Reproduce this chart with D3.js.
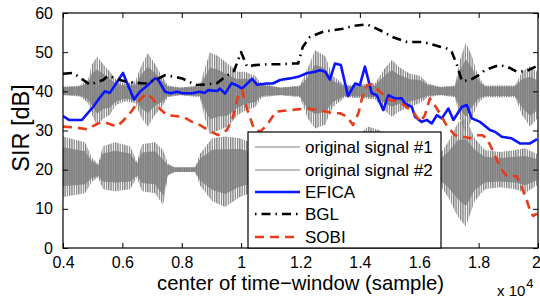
<!DOCTYPE html>
<html>
<head>
<meta charset="utf-8">
<script src="https://cdnjs.cloudflare.com/ajax/libs/d3/7.8.5/d3.min.js"></script>
<style>
body { margin: 0; background: #fff; }
text { font-family: "Liberation Sans", Arial, sans-serif; fill: #000; }
</style>
</head>
<body>
<svg id="chart"></svg>
<script>
var WIDTH = 540, HEIGHT = 298;
var MARGIN = {left: 63, right: 2, top: 13, bottom: 50};
var PLOT_W = WIDTH - MARGIN.left - MARGIN.right;
var PLOT_H = HEIGHT - MARGIN.top - MARGIN.bottom;

var GRAY = "#7f7f7f", BLUE = "#0a14ff", RED = "#e63c1a";

//axis ticks
var X_TICKS = [4000, 6000, 8000, 10000, 12000, 14000, 16000, 18000, 20000];
var X_TICK_LABELS = ["0.4", "0.6", "0.8", "1", "1.2", "1.4", "1.6", "1.8", "2"];
var Y_TICKS = [0, 10, 20, 30, 40, 50, 60];

//legend names
var SERIES_NAMES = ["original signal #1", "original signal #2", "EFICA", "BGL", "SOBI"];

//center of time-window (sample) and SIR [dB]
var EFICA_X = [4000, 4200, 4640, 5010, 5250, 5410, 5580, 6020, 6390, 6590, 6860, 7100, 7200, 7440, 7640, 7840, 8040, 8350, 8610, 8780, 8880, 9190, 9290, 9460, 9680, 9860, 10030, 10370, 10530, 10870, 11070, 11310, 11640, 11920, 12210, 12490, 12660, 12830, 12990, 13160, 13360, 13600, 13840, 14000, 14170, 14400, 14570, 14790, 14960, 15180, 15410, 15520, 15750, 15860, 16080, 16250, 16420, 16590, 16760, 16980, 17150, 17430, 17600, 17770, 18050, 18380, 18550, 18780, 19110, 19390, 19730, 19970];
var EFICA_Y = [33.7, 32.7, 32.7, 36, 38.5, 40, 39.6, 44.7, 37.9, 39.9, 41.6, 43.3, 43, 39.9, 39.5, 39.9, 39.5, 39.5, 39.9, 39.6, 40.3, 40.1, 40.7, 39.4, 42.1, 41.5, 40.7, 43.2, 41.7, 42, 42, 42.9, 43.3, 43.7, 44.6, 45, 45.4, 45, 43, 47.1, 46.7, 38.8, 42, 41.6, 46.3, 39.5, 39, 35.2, 39, 38.2, 38.2, 36.9, 36, 33.5, 32.2, 32.7, 31.8, 33.9, 33.1, 35.6, 32.7, 36, 36.5, 33.1, 32.2, 30.1, 29.7, 28.4, 28, 26.7, 26.7, 27.8];

var BGL_X = [4000, 4340, 4910, 5350, 5520, 5750, 6150, 6760, 7100, 7440, 7770, 8010, 8480, 8850, 9190, 9390, 9760, 10000, 10200, 10470, 10870, 11310, 11750, 11920, 12080, 12320, 12760, 13430, 13770, 14240, 14680, 15120, 15590, 16130, 16700, 16940, 17100, 17270, 17440, 17710, 17980, 18210, 18690, 18960, 19290, 19630, 19970];
var BGL_Y = [44.5, 44.7, 41.7, 42.9, 44, 43.3, 42.4, 42, 42.9, 44.1, 43.7, 43.3, 41.6, 41.8, 42.1, 43.3, 45.2, 50, 46.3, 46.7, 46.9, 46.9, 47.1, 47.1, 51.4, 53.9, 55.2, 56, 56.7, 57.1, 55.6, 53.8, 52.6, 52.6, 51.4, 50.9, 50, 46.7, 42.6, 42.9, 44, 45.4, 46.7, 46.3, 45, 45.2, 46.5];

var SOBI_X = [4000, 4400, 4810, 5180, 5350, 5820, 6090, 6320, 6490, 6800, 7000, 7270, 7500, 8040, 8450, 8610, 8990, 9220, 9520, 9730, 9890, 10030, 10200, 10430, 10640, 10870, 11170, 11640, 12220, 12660, 13090, 13330, 13570, 13770, 13950, 14070, 14240, 14410, 14680, 15010, 15320, 15490, 15830, 16030, 16190, 16360, 16560, 16760, 16940, 17200, 17470, 17710, 17910, 18120, 18280, 18490, 18720, 18960, 19280, 19450, 19620, 19760, 19840, 19970];
var SOBI_Y = [31, 30.8, 30.3, 31.8, 32.2, 31, 33, 35, 37, 39.5, 38.3, 35.5, 33.9, 33.5, 31.8, 31.4, 29.7, 28.8, 30.1, 33.5, 38.6, 40.3, 35.5, 30.5, 29.7, 31.4, 34.8, 35.2, 35.6, 35.2, 34.4, 34.4, 33.5, 31.4, 34.4, 38.2, 41.6, 41.8, 39.9, 37.8, 37.3, 36.5, 34.4, 32.2, 33.9, 38.2, 36, 33.5, 31, 28.8, 28.4, 28, 28.8, 28.8, 28, 24.6, 20.7, 18.2, 18.4, 15.6, 12.2, 9, 8.2, 8.8];

//waveform envelopes of the original signals (as drawn on the SIR scale)
var SIG1_X = [4000, 4570, 4840, 4980, 5150, 5350, 5580, 5790, 6090, 6430, 6660, 6860, 7100, 7330, 7540, 7940, 8610, 8780, 8950, 9220, 9560, 9890, 10130, 10470, 10700, 11310, 11980, 12250, 12490, 12830, 13090, 13500, 14510, 14850, 15080, 15350, 15690, 16030, 16290, 16700, 17200, 17370, 17570, 17770, 17980, 18210, 19230, 19460, 19730, 19970];
var SIG1_HI = [41.2, 41.5, 43, 47, 48.8, 47, 45, 43, 42, 42.5, 47, 49.7, 47, 44, 41.5, 41, 41.5, 46, 50, 49, 47, 45, 45, 44, 42, 41, 41.5, 46, 50.5, 49, 44, 41.5, 42, 46, 48, 46, 44.5, 44, 42, 41.2, 41.5, 48, 52.5, 49, 44, 41.5, 41.5, 45, 46.5, 45];
var SIG1_LO = [39, 38.7, 37, 34, 31, 33, 34, 36.5, 37.5, 37, 33, 31, 34, 36, 38.5, 39, 38.5, 33, 29, 30, 31, 34, 35, 36, 38.5, 39, 38.5, 33, 30.5, 31.5, 36, 38.5, 38, 35, 33.5, 35, 36, 37, 38.5, 39, 38.5, 33, 29, 33, 37, 38.5, 38.5, 34, 31, 33];

var SIG2_X = [4000, 4740, 4980, 5180, 5350, 5750, 6260, 6490, 6660, 7100, 7370, 7540, 7770, 8450, 8610, 9020, 9460, 9960, 10300, 10640, 11310, 11980, 12990, 13840, 14270, 14680, 15180, 16030, 16700, 16970, 17300, 17570, 17870, 18210, 18720, 19230, 19560, 19970];
var SIG2_HI = [28.5, 27, 23, 21.5, 26, 27, 26, 22, 26.5, 27, 25, 21.5, 20.5, 20.5, 24, 28, 28.5, 28, 27, 24, 26, 24, 22, 28, 31, 30, 26, 24, 24, 27, 32, 33, 28, 25, 24.5, 25, 25.5, 24];
var SIG2_LO = [13, 14, 17, 18, 15, 14.5, 15, 18, 14.5, 14, 11, 18.5, 19.5, 19.5, 16, 12, 10.5, 13, 14, 16, 14, 16, 18, 12, 10, 11, 14, 16, 16, 13, 8, 5.5, 12, 15, 15.5, 15, 14, 16];

var svg = d3.select("#chart")
    .attr("width", WIDTH)
    .attr("height", HEIGHT)
    .style("background", "#fff");

var x = d3.scaleLinear().domain([4000, 20000]).range([MARGIN.left, MARGIN.left + PLOT_W]);
var y = d3.scaleLinear().domain([0, 60]).range([MARGIN.top + PLOT_H, MARGIN.top]);

var defs = svg.append("defs");
defs.append("clipPath")
    .attr("id", "plot-clip")
    .append("rect")
    .attr("x", MARGIN.left)
    .attr("y", MARGIN.top)
    .attr("width", PLOT_W)
    .attr("height", PLOT_H);
//vertical hatching so the envelope reads like a dense waveform
var pat = defs.append("pattern")
    .attr("id", "wave")
    .attr("patternUnits", "userSpaceOnUse")
    .attr("width", 2.3)
    .attr("height", 10);
pat.append("rect")
    .attr("width", 1.3)
    .attr("height", 10)
    .style("fill", GRAY);
var patCore = defs.append("pattern")
    .attr("id", "wave-core")
    .attr("patternUnits", "userSpaceOnUse")
    .attr("width", 2.3)
    .attr("height", 10);
patCore.append("rect")
    .attr("width", 2.3)
    .attr("height", 10)
    .style("fill", "#959595");
patCore.append("rect")
    .attr("width", 1.3)
    .attr("height", 10)
    .style("fill", GRAY);

var plot = svg.append("g").attr("clip-path", "url(#plot-clip)");

//draw the two original signals: sparse spikes outside, dense core inside
function drawEnvelope(xs, hi, lo) {
    var idx = d3.range(xs.length);
    var outer = d3.area()
        .x(function (d) { return x(xs[d]); })
        .y0(function (d) { return y(lo[d]); })
        .y1(function (d) { return y(hi[d]); });
    var inner = d3.area()
        .x(function (d) { return x(xs[d]); })
        .y0(function (d) { var m = (hi[d] + lo[d]) / 2; return y(m - (hi[d] - lo[d]) * 0.3) + 1.2; })
        .y1(function (d) { var m = (hi[d] + lo[d]) / 2; return y(m + (hi[d] - lo[d]) * 0.3) - 1.2; });
    plot.append("path")
        .attr("d", outer(idx))
        .style("fill", "url(#wave)")
        .style("stroke", "none");
    plot.append("path")
        .attr("d", inner(idx))
        .style("fill", "url(#wave-core)")
        .style("stroke", "none");
}
drawEnvelope(SIG1_X, SIG1_HI, SIG1_LO);
drawEnvelope(SIG2_X, SIG2_HI, SIG2_LO);

//draw the SIR curves
function drawCurve(xs, ys, color, dash) {
    var line = d3.line()
        .x(function (d) { return x(xs[d]); })
        .y(function (d) { return y(ys[d]); });
    plot.append("path")
        .attr("d", line(d3.range(xs.length)))
        .style("fill", "none")
        .style("stroke", color)
        .style("stroke-width", 2.6)
        .style("stroke-dasharray", dash)
        .style("stroke-linejoin", "round");
}
drawCurve(EFICA_X, EFICA_Y, BLUE, null);
drawCurve(BGL_X, BGL_Y, "#000", "9,5,1.5,5");
drawCurve(SOBI_X, SOBI_Y, RED, "9,6");

//draw frame and inward ticks on all four sides
svg.append("rect")
    .attr("x", MARGIN.left)
    .attr("y", MARGIN.top)
    .attr("width", PLOT_W)
    .attr("height", PLOT_H)
    .style("fill", "none")
    .style("stroke", "#000")
    .style("stroke-width", 1.2);

var axB = svg.append("g").attr("transform", "translate(0," + (MARGIN.top + PLOT_H) + ")")
    .call(d3.axisBottom(x).tickValues(X_TICKS).tickSize(-5).tickPadding(9)
        .tickFormat(function (d, i) { return X_TICK_LABELS[i]; }));
var axT = svg.append("g").attr("transform", "translate(0," + MARGIN.top + ")")
    .call(d3.axisTop(x).tickValues(X_TICKS).tickSize(-5).tickFormat(""));
var axL = svg.append("g").attr("transform", "translate(" + MARGIN.left + ",0)")
    .call(d3.axisLeft(y).tickValues(Y_TICKS).tickSize(-5).tickPadding(10));
var axR = svg.append("g").attr("transform", "translate(" + (MARGIN.left + PLOT_W) + ",0)")
    .call(d3.axisRight(y).tickValues(Y_TICKS).tickSize(-5).tickFormat(""));

[axB, axT, axL, axR].forEach(function (a) {
    a.select(".domain").remove();
    a.selectAll("line").style("stroke", "#000").style("stroke-width", 1);
    a.selectAll("text")
        .style("font-family", "'Liberation Sans', Arial, sans-serif")
        .style("font-size", "16px")
        .style("fill", "#000");
});
//last tick label sits on the window edge, keep it inside
axB.selectAll(".tick:last-of-type text").attr("dx", -2);

//axis labels
svg.append("text")
    .attr("x", MARGIN.left + PLOT_W / 2)
    .attr("y", 290)
    .style("text-anchor", "middle")
    .style("font-size", "20.3px")
    .text("center of time\u2212window (sample)");

var mult = svg.append("text")
    .attr("x", 497)
    .attr("y", 296)
    .style("font-size", "15px");
mult.append("tspan").text("x 10");
mult.append("tspan").attr("dy", -8).attr("dx", 1).style("font-size", "13px").text("4");

svg.append("text")
    .attr("transform", "translate(29," + 128 + ") rotate(-90)")
    .style("text-anchor", "middle")
    .style("font-size", "23.5px")
    .text("SIR [dB]");

//draw legend
var legend = svg.append("g");
legend.append("rect")
    .attr("x", 248)
    .attr("y", 132)
    .attr("width", 193)
    .attr("height", 116)
    .style("fill", "#fff")
    .style("stroke", "#000")
    .style("stroke-width", 1.2);

var LEGEND_STYLE = [
    {color: GRAY, width: 1, dash: null},
    {color: GRAY, width: 1, dash: null},
    {color: BLUE, width: 2.6, dash: null},
    {color: "#000", width: 2.6, dash: "1.5,5,9,5"},
    {color: RED, width: 2.6, dash: "9,6"}
];
var rows = [147, 170, 192, 214, 237];
SERIES_NAMES.forEach(function (name, i) {
    legend.append("line")
        .attr("x1", 255)
        .attr("x2", 300)
        .attr("y1", rows[i])
        .attr("y2", rows[i])
        .style("stroke", LEGEND_STYLE[i].color)
        .style("stroke-width", LEGEND_STYLE[i].width)
        .style("stroke-dasharray", LEGEND_STYLE[i].dash);
    legend.append("text")
        .attr("x", 305)
        .attr("y", rows[i])
        .attr("dy", "0.35em")
        .style("font-size", "17px")
        .text(name);
});
</script>
</body>
</html>
